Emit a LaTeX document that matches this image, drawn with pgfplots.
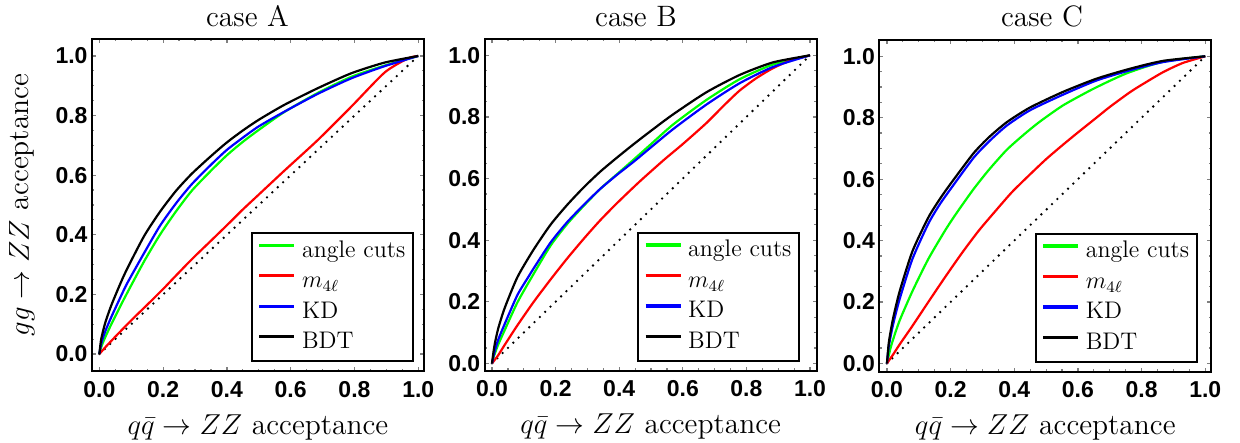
\documentclass[border=0pt]{standalone}
\usepackage{fontspec}
\usepackage{pgfplots}
\pgfplotsset{compat=1.18}
\newfontfamily\tickfont{Liberation Sans}
\definecolor{mgreen}{rgb}{0,1,0}
\definecolor{mred}{rgb}{1,0,0}
\definecolor{mblue}{rgb}{0,0,1}

\pgfplotsset{
  roc/.style={
    scale only axis, width=166pt, height=166pt,
    xtick={0,0.2,0.4,0.6,0.8,1}, ytick={0,0.2,0.4,0.6,0.8,1},
    minor tick num=3,
    tick align=inside,
    major tick length=2pt, minor tick length=1.2pt,
    every tick/.style={black!50, line width=0.6pt},
    axis line style={line width=0.9pt},
    ticklabel style={font=\tickfont\bfseries\fontsize{11.5}{13}\selectfont},
    xticklabel style={yshift=-1.5pt},
    yticklabel style={xshift=1.3pt},
    /pgf/number format/.cd, fixed, fixed zerofill, precision=1, assume math mode=true,
    /pgfplots/.cd,
    xlabel={$q\bar q\to ZZ$ acceptance},
    xlabel style={at={(0.5,-0.19)}, anchor=base, font=\fontsize{14.75}{16}\selectfont},
    legend cell align=left,
    legend style={anchor=south east, draw=black, line width=1pt,
      font=\fontsize{12}{14}\selectfont, inner xsep=3pt, inner ysep=2.9pt,
      row sep=2.75pt, column sep=2pt,
      nodes={inner sep=1pt, text height=8pt, text depth=2.5pt}},
    legend image code/.code={\draw[#1, line width=1.6pt] (0pt,3.2pt) -- (17.5pt,3.2pt);},
  },
  diag/.style={black, line width=1.3pt, dash pattern=on 0pt off 3.7pt, line cap=round, forget plot},
  cg/.style={mgreen, line width=1.1pt, smooth, tension=0.4},
  cr/.style={mred, line width=1.1pt, smooth, tension=0.4},
  cb/.style={mblue, line width=1.1pt, smooth, tension=0.4},
  ck/.style={black, line width=1.1pt, smooth, tension=0.4},
}

\begin{document}
\begin{tikzpicture}
\useasboundingbox (0pt,0pt) rectangle (620pt,221.5pt);

% ---------------- case A
\begin{axis}[roc, at={(46pt,36pt)}, anchor=south west,
  xmin=-0.023, xmax=1.018, ymin=-0.057, ymax=1.057,
  ylabel={$gg\to ZZ$ acceptance},
  ylabel style={at={(-0.19,0.5)}, anchor=base, font=\fontsize{14.75}{16}\selectfont},
  legend style={at={(0.9707,0.026)}}]
\addplot[diag] coordinates {(0,0) (1,1)};
\addplot[cg] coordinates {(0,0) (0.005,0.02) (0.01,0.035) (0.02,0.06) (0.04,0.105) (0.08,0.19) (0.14,0.31) (0.19,0.40) (0.24,0.478) (0.29,0.548) (0.35,0.615) (0.40,0.667) (0.45,0.712) (0.50,0.752) (0.58,0.812) (0.685,0.876) (0.79,0.93) (0.895,0.968) (1,1)};
\addlegendentry{angle cuts}
\addplot[cr] coordinates {(0,0) (0.02,0.024) (0.05,0.058) (0.1,0.113) (0.15,0.165) (0.2,0.218) (0.233,0.255) (0.29,0.318) (0.348,0.378) (0.4,0.432) (0.45,0.485) (0.495,0.53) (0.58,0.615) (0.685,0.718) (0.79,0.83) (0.895,0.945) (0.968,0.992) (1,1)};
\addlegendentry{$m_{4\ell}$}
\addplot[cb] coordinates {(0,0) (0.005,0.03) (0.01,0.05) (0.02,0.08) (0.04,0.13) (0.08,0.222) (0.1,0.262) (0.14,0.338) (0.19,0.43) (0.24,0.505) (0.29,0.57) (0.35,0.635) (0.4,0.685) (0.45,0.726) (0.5,0.764) (0.58,0.813) (0.685,0.873) (0.79,0.925) (0.895,0.966) (1,1)};
\addlegendentry{KD}
\addplot[ck] coordinates {(0,0) (0.005,0.045) (0.01,0.07) (0.02,0.11) (0.04,0.17) (0.08,0.27) (0.14,0.395) (0.19,0.477) (0.24,0.547) (0.29,0.605) (0.35,0.664) (0.4,0.71) (0.45,0.75) (0.5,0.786) (0.58,0.836) (0.685,0.892) (0.79,0.942) (0.895,0.978) (1,1)};
\addlegendentry{BDT}
\end{axis}

% ---------------- case B
\begin{axis}[roc, at={(242.35pt,36.15pt)}, anchor=south west,
  xmin=-0.023, xmax=1.021, ymin=-0.024, ymax=1.054,
  legend style={at={(0.951,0.0253)}}]
\addplot[diag] coordinates {(0,0) (1,1)};
\addplot[cg] coordinates {(0,0) (0.005,0.02) (0.01,0.035) (0.02,0.062) (0.04,0.108) (0.08,0.198) (0.125,0.28) (0.184,0.382) (0.236,0.452) (0.289,0.512) (0.34,0.566) (0.393,0.614) (0.446,0.662) (0.496,0.708) (0.569,0.775) (0.674,0.855) (0.778,0.922) (0.883,0.97) (1,1)};
\addlegendentry{angle cuts}
\addplot[cr] coordinates {(0,0) (0.01,0.013) (0.02,0.027) (0.04,0.06) (0.079,0.122) (0.13,0.198) (0.184,0.272) (0.236,0.34) (0.289,0.405) (0.339,0.463) (0.393,0.52) (0.464,0.59) (0.54,0.66) (0.6,0.712) (0.674,0.78) (0.73,0.838) (0.778,0.885) (0.83,0.925) (0.883,0.958) (0.94,0.984) (1,1)};
\addlegendentry{$m_{4\ell}$}
\addplot[cb] coordinates {(0,0) (0.005,0.025) (0.01,0.045) (0.02,0.078) (0.04,0.128) (0.08,0.222) (0.114,0.28) (0.132,0.31) (0.184,0.392) (0.236,0.458) (0.289,0.515) (0.34,0.566) (0.393,0.612) (0.446,0.655) (0.496,0.698) (0.569,0.76) (0.674,0.84) (0.778,0.909) (0.883,0.962) (1,1)};
\addlegendentry{KD}
\addplot[ck] coordinates {(0,0) (0.005,0.04) (0.01,0.07) (0.02,0.115) (0.04,0.18) (0.08,0.28) (0.13,0.368) (0.184,0.45) (0.236,0.514) (0.289,0.572) (0.34,0.622) (0.393,0.668) (0.446,0.712) (0.5,0.755) (0.569,0.808) (0.674,0.88) (0.778,0.936) (0.883,0.977) (1,1)};
\addlegendentry{BDT}
\end{axis}

% ---------------- case C
\begin{axis}[roc, at={(439.65pt,35.65pt)}, anchor=south west,
  xmin=-0.024, xmax=1.019, ymin=-0.027, ymax=1.054,
  legend style={at={(0.96,0.0253)}}]
\addplot[diag] coordinates {(0,0) (1,1)};
\addplot[cg] coordinates {(0,0) (0.01,0.045) (0.02,0.08) (0.04,0.14) (0.08,0.235) (0.13,0.34) (0.184,0.435) (0.219,0.49) (0.271,0.566) (0.32,0.63) (0.376,0.695) (0.43,0.745) (0.48,0.787) (0.553,0.84) (0.637,0.888) (0.7,0.92) (0.762,0.948) (0.867,0.982) (1,1)};
\addlegendentry{angle cuts}
\addplot[cr] coordinates {(0,0) (0.02,0.03) (0.04,0.062) (0.08,0.122) (0.13,0.2) (0.184,0.283) (0.236,0.36) (0.289,0.433) (0.344,0.5) (0.393,0.558) (0.449,0.615) (0.5,0.665) (0.553,0.712) (0.6,0.752) (0.658,0.8) (0.7,0.835) (0.762,0.882) (0.8,0.907) (0.867,0.948) (0.929,0.978) (1,1)};
\addlegendentry{$m_{4\ell}$}
\addplot[cb] coordinates {(0,0) (0.005,0.05) (0.01,0.08) (0.02,0.13) (0.04,0.21) (0.08,0.34) (0.13,0.455) (0.166,0.518) (0.2,0.568) (0.271,0.668) (0.32,0.722) (0.376,0.774) (0.449,0.824) (0.553,0.875) (0.658,0.921) (0.762,0.954) (0.867,0.981) (1,1)};
\addlegendentry{KD}
\addplot[ck] coordinates {(0,0) (0.005,0.06) (0.01,0.095) (0.02,0.15) (0.04,0.235) (0.08,0.365) (0.13,0.475) (0.166,0.535) (0.2,0.585) (0.271,0.683) (0.32,0.736) (0.376,0.785) (0.449,0.833) (0.553,0.884) (0.658,0.927) (0.762,0.959) (0.867,0.985) (1,1)};
\addlegendentry{BDT}
\end{axis}

% panel titles
\begin{scope}[every node/.style={anchor=base, inner sep=0pt, font=\fontsize{14.75}{16}\selectfont}]
\node at (123.75pt,208pt) {case A};
\node at (318pt,208pt) {case B};
\node at (521pt,208pt) {case C};
\end{scope}
\end{tikzpicture}
\end{document}
